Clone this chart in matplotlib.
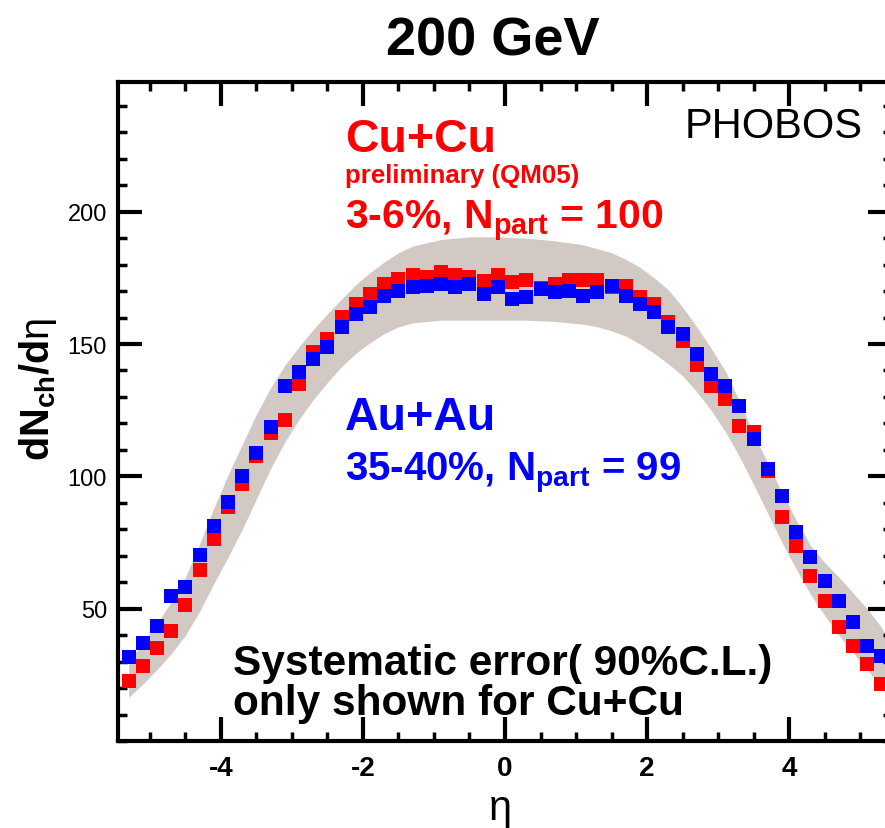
import numpy as np
import matplotlib
matplotlib.use("Agg")
import matplotlib.pyplot as plt
from matplotlib.ticker import MultipleLocator

plt.rcParams["font.family"] = ["Liberation Sans", "DejaVu Sans"]
plt.rcParams["mathtext.fontset"] = "custom"
plt.rcParams["mathtext.rm"] = "Liberation Sans"
plt.rcParams["mathtext.it"] = "Liberation Sans:italic"
plt.rcParams["mathtext.bf"] = "Liberation Sans:bold"
plt.rcParams["axes.unicode_minus"] = False

# pseudorapidity bin centres
eta = [-5.3, -5.1, -4.9, -4.7, -4.5, -4.3, -4.1, -3.9, -3.7, -3.5,
       -3.3, -3.1, -2.9, -2.7, -2.5, -2.3, -2.1, -1.9, -1.7, -1.5,
       -1.3, -1.1, -0.9, -0.7, -0.5, -0.3, -0.1, 0.1, 0.3, 0.5,
       0.7, 0.9, 1.1, 1.3, 1.5, 1.7, 1.9, 2.1, 2.3, 2.5,
       2.7, 2.9, 3.1, 3.3, 3.5, 3.7, 3.9, 4.1, 4.3, 4.5,
       4.7, 4.9, 5.1, 5.3]

# Cu+Cu 3-6%
cucu = [22.8, 28.5, 35.0, 41.7, 51.4, 64.7, 76.3, 88.3, 97.1, 107.5,
        116.5, 121.1, 134.9, 146.9, 151.9, 160.1, 165.2, 168.9, 172.7, 174.6,
        175.9, 175.2, 177.1, 175.9, 175.3, 173.9, 175.9, 173.3, 174.0, 171.0,
        172.7, 174.0, 174.0, 174.0, 171.5, 172.1, 167.7, 165.0, 158.2, 151.3,
        142.1, 134.3, 129.3, 119.2, 116.7, 102.0, 84.5, 73.8, 62.5, 53.0,
        43.0, 36.0, 29.1, 21.5]

# Au+Au 35-40%
auau = [31.6, 37.0, 43.6, 54.7, 58.1, 70.3, 81.4, 90.2, 100.0, 108.8,
        118.5, 134.3, 139.3, 144.4, 148.8, 156.3, 161.4, 163.9, 168.3, 170.2,
        171.5, 172.1, 172.7, 171.5, 172.7, 168.9, 171.5, 167.0, 167.7, 170.8,
        169.6, 170.2, 168.3, 169.6, 172.1, 168.3, 165.2, 162.0, 156.3, 153.8,
        146.3, 138.7, 134.3, 126.7, 114.1, 102.8, 92.7, 78.9, 69.4, 60.6,
        53.0, 44.9, 36.0, 32.2]

# Cu+Cu systematic band (90% C.L.)
band_eta = [-5.3, -5.1, -4.9, -4.7, -4.5, -4.3, -4.1, -3.9, -3.7, -3.5,
            -3.3, -3.1, -2.9, -2.7, -2.5, -2.3, -2.1, -1.9, -1.7, -1.5,
            -1.3, -0.9, -0.5, -0.1, 0.3, 0.7, 1.1, 1.3, 1.5, 1.7,
            1.9, 2.1, 2.3, 2.5, 2.7, 2.9, 3.1, 3.3, 3.5, 3.7,
            3.9, 4.1, 4.3, 4.5, 4.7, 4.9, 5.1, 5.3, 5.45]
band_lo = [16.5, 21.5, 27, 33, 40, 49, 59.5, 69.5, 80, 91.5,
           103, 113, 121.5, 129, 135.5, 141.5, 146.5, 150.5, 154, 156.5,
           158, 159, 159, 159, 159, 158.5, 157.5, 156.5, 155, 153,
           150, 146.5, 142.5, 138, 132, 125, 117, 107.5, 97, 86,
           75, 65, 55.5, 47.5, 40, 33.5, 27, 20.5, 16]
band_hi = [30, 37, 44.5, 52.5, 62, 74.5, 88, 100.5, 112, 123.5,
           133.5, 142, 149, 155.5, 161.5, 167, 172.5, 177, 181, 184.5,
           187, 189.5, 190.5, 190.5, 190, 189, 187.5, 186, 184.5, 182,
           179, 175, 170.5, 164, 156.5, 148.5, 140, 128.5, 116, 105,
           94, 83.5, 74, 67.5, 62, 56, 50, 43, 36]

W, H = 885, 829


def fx(x):
    return x / W


def fy(y):
    return 1 - y / H


fig = plt.figure(figsize=(8.85, 8.29), dpi=100)
ax = fig.add_axes([fx(118), fy(742), 774 / W, 659 / H])

ax.fill_between(band_eta, band_lo, band_hi, color="#d3c9c4", lw=0, zorder=1)
ax.plot(eta, cucu, "s", color="#ff0000", ms=9.8, mew=0, zorder=2)
ax.plot(eta, auau, "s", color="#0000ff", ms=9.8, mew=0, zorder=3)

ax.set_xlim(-5.45, 5.45)
ax.set_ylim(0, 249)
ax.xaxis.set_major_locator(MultipleLocator(2))
ax.xaxis.set_minor_locator(MultipleLocator(0.5))
ax.yaxis.set_major_locator(MultipleLocator(50))
ax.yaxis.set_minor_locator(MultipleLocator(10))
ax.set_yticks([50, 100, 150, 200])

for s in ax.spines.values():
    s.set_linewidth(3)
ax.tick_params(which="both", direction="in", top=True, right=True)
ax.tick_params(which="major", length=17, width=3)
ax.tick_params(which="minor", length=6.5, width=2.5)
ax.tick_params(axis="y", labelsize=17, pad=8)
ax.tick_params(axis="x", labelsize=20, pad=10)
for lbl in ax.get_xticklabels():
    lbl.set_fontweight("bold")

fig.text(fx(500), fy(829), "η", fontsize=30, ha="center", va="bottom")
fig.text(fx(38), fy(389), r"$\mathbf{dN_{ch}/d}\mathrm{\eta}$", fontsize=28.5,
         rotation=90, ha="center", va="center")

fig.text(fx(493), fy(55), "200 GeV", fontsize=39, fontweight="bold", ha="center")
fig.text(fx(685), fy(138), "PHOBOS", fontsize=30)

red = "#ff0000"
blue = "#0000ff"
fig.text(fx(345), fy(152), "Cu+Cu", fontsize=33.5, fontweight="bold", color=red)
fig.text(fx(345), fy(183), "preliminary (QM05)", fontsize=18.6, fontweight="bold", color=red)
fig.text(fx(345), fy(228), r"3-6%, N$_{\mathbf{part}}$ = 100", fontsize=29.4,
         fontweight="bold", color=red)
fig.text(fx(345), fy(430), "Au+Au", fontsize=33.5, fontweight="bold", color=blue)
fig.text(fx(345), fy(480), r"35-40%, N$_{\mathbf{part}}$ = 99", fontsize=29,
         fontweight="bold", color=blue)
fig.text(fx(233), fy(675), "Systematic error( 90%C.L.)", fontsize=30.5, fontweight="bold")
fig.text(fx(233), fy(715), "only shown for Cu+Cu", fontsize=30.5, fontweight="bold")

fig.savefig("out.png", dpi=100)
